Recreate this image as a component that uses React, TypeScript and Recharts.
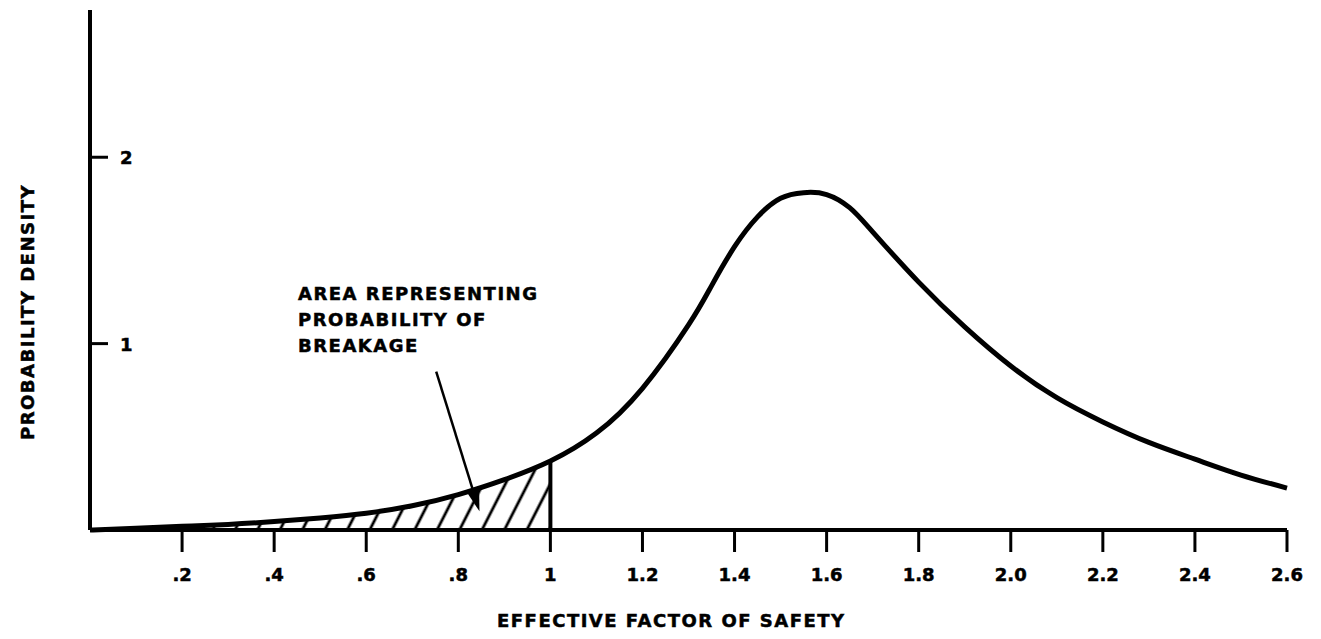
import { Area, ComposedChart, Line, ReferenceLine, XAxis, YAxis } from "recharts"

const factor = [0, 0.1, 0.2, 0.3, 0.4, 0.5, 0.6, 0.7, 0.8, 0.9, 1.0, 1.1, 1.2, 1.3, 1.35, 1.4, 1.45, 1.5, 1.55, 1.6, 1.65, 1.7, 1.8, 1.9, 2.0, 2.1, 2.2, 2.3, 2.4, 2.5, 2.6]
const density = [0, 0.01, 0.02, 0.03, 0.045, 0.065, 0.09, 0.13, 0.19, 0.27, 0.37, 0.52, 0.76, 1.1, 1.31, 1.52, 1.68, 1.78, 1.81, 1.8, 1.73, 1.6, 1.33, 1.09, 0.88, 0.71, 0.58, 0.47, 0.38, 0.295, 0.225]

const xTicks = [0.2, 0.4, 0.6, 0.8, 1, 1.2, 1.4, 1.6, 1.8, 2.0, 2.2, 2.4, 2.6]
const xTickLabels = [".2", ".4", ".6", ".8", "1", "1.2", "1.4", "1.6", "1.8", "2.0", "2.2", "2.4", "2.6"]
const yTicks = [1, 2]

const breakLimit = 1
const noteLines = ["AREA REPRESENTING", "PROBABILITY OF", "BREAKAGE"]
const arrowFrom = { x: 0.752, y: 0.85 }
const arrowTo = { x: 0.846, y: 0.1 }

const data = factor.map((f, i) => ({
  f,
  d: density[i],
  hatch: f <= breakLimit ? density[i] : undefined,
}))

const limitValue = density[factor.indexOf(breakLimit)]

const FONT = "'DejaVu Sans', sans-serif"

function XTick({ x, y, payload }: any) {
  const idx = xTicks.indexOf(payload.value)
  return (
    <text x={x} y={y} dy={27} textAnchor="middle" fontFamily={FONT} fontWeight="bold" fontSize={18} fill="#000" stroke="#000" strokeWidth={0.5}>
      {xTickLabels[idx] ?? payload.value}
    </text>
  )
}

function YTick({ x, y, payload }: any) {
  return (
    <text x={x} y={y} dy={7} textAnchor="start" fontFamily={FONT} fontWeight="bold" fontSize={18} fill="#000" stroke="#000" strokeWidth={0.5}>
      {payload.value}
    </text>
  )
}

function Arrow({ x1, y1, x2, y2 }: any) {
  const dx = x2 - x1
  const dy = y2 - y1
  const len = Math.sqrt(dx * dx + dy * dy)
  const ux = dx / len
  const uy = dy / len
  const hl = 24
  const hw = 7
  const bx = x2 - ux * hl
  const by = y2 - uy * hl
  return (
    <g>
      <line x1={x1} y1={y1} x2={bx} y2={by} stroke="#000" strokeWidth={2.5} />
      <polygon
        points={`${x2},${y2} ${bx - uy * hw},${by + ux * hw} ${bx + uy * hw},${by - ux * hw}`}
        fill="#000"
      />
    </g>
  )
}

export default function App() {
  return (
    <div style={{ position: "absolute", left: 0, top: 0, width: 1321, height: 639, background: "#fff" }}>
      <ComposedChart width={1321} height={639} data={data} margin={{ top: 10, right: 34, bottom: 49, left: 90 }}>
        <defs>
          <pattern id="hatch" patternUnits="userSpaceOnUse" width={20} height={20} patternTransform="rotate(27)">
            <line x1={10} y1={0} x2={10} y2={20} stroke="#000" strokeWidth={2.8} />
          </pattern>
        </defs>
        <XAxis
          dataKey="f"
          type="number"
          domain={[0, 2.6]}
          ticks={xTicks}
          height={60}
          tickSize={22}
          axisLine={{ stroke: "#000", strokeWidth: 4 }}
          tickLine={{ stroke: "#000", strokeWidth: 3 }}
          tick={<XTick />}
          interval={0}
        />
        <YAxis
          type="number"
          domain={[0, 2.79]}
          ticks={yTicks}
          width={1}
          mirror
          tickSize={18}
          tickMargin={12}
          axisLine={{ stroke: "#000", strokeWidth: 4 }}
          tickLine={{ stroke: "#000", strokeWidth: 3 }}
          tick={<YTick />}
          interval={0}
        />
        <Area
          type="natural"
          dataKey="hatch"
          stroke="none"
          fill="url(#hatch)"
          fillOpacity={1}
          isAnimationActive={false}
        />
        <Line
          type="natural"
          dataKey="d"
          stroke="#000"
          strokeWidth={5}
          dot={false}
          activeDot={false}
          isAnimationActive={false}
        />
        <ReferenceLine
          segment={[{ x: breakLimit, y: 0 }, { x: breakLimit, y: limitValue }]}
          stroke="#000"
          strokeWidth={4}
        />
        <ReferenceLine segment={[arrowFrom, arrowTo]} shape={<Arrow />} ifOverflow="visible" />
        <g fontFamily={FONT} fontWeight="bold" fontSize={18} fill="#000" stroke="#000" strokeWidth={0.5} letterSpacing={1.5}>
          {noteLines.map((t, i) => (
            <text key={t} x={298} y={300 + i * 26}>{t}</text>
          ))}
          <text x={497} y={627}>EFFECTIVE FACTOR OF SAFETY</text>
          <text x={34} y={440} transform="rotate(-90, 34, 440)">PROBABILITY DENSITY</text>
        </g>
      </ComposedChart>
    </div>
  )
}
